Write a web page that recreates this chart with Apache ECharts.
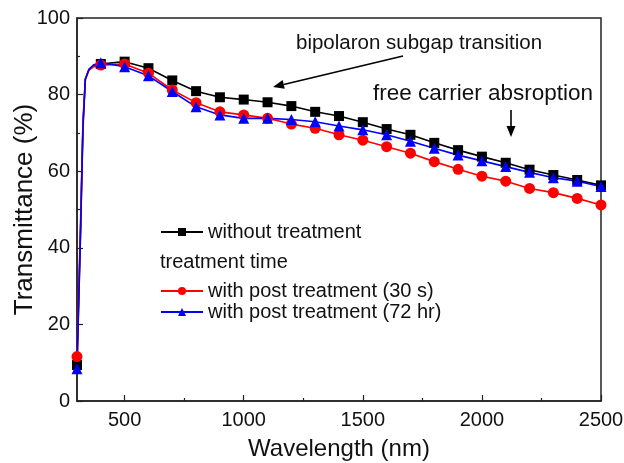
<!DOCTYPE html>
<html>
<head>
<meta charset="utf-8">
<script src="https://cdn.jsdelivr.net/npm/echarts@6/dist/echarts.min.js"></script>
<style>
  html, body { margin: 0; padding: 0; background: #fff; }
  #main { width: 624px; height: 463px; }
</style>
</head>
<body>
<div id="main"></div>
<script>
// wavelengths (nm); the first few points trace the steep UV edge, markers every 100 nm
var wavelength = [300, 315, 325, 335, 350, 370, 400, 500, 600, 700, 800, 900, 1000, 1100, 1200,
  1300, 1400, 1500, 1600, 1700, 1800, 1900, 2000, 2100, 2200, 2300, 2400, 2500];
// points that carry no marker (edge trace only)
var noMarker = [315, 325, 335, 350, 370];

var withoutTreatment = [9.4, 45, 72, 84, 86.5, 87.6, 88.0, 88.6, 86.9, 83.7, 80.9, 79.3, 78.7, 78.0, 77.0,
  75.5, 74.4, 72.8, 71.0, 69.5, 67.4, 65.5, 63.8, 62.2, 60.4, 59.0, 57.7, 56.3];
var treated30s = [11.6, 47, 73, 84, 86.3, 87.3, 87.7, 88.0, 85.6, 81.2, 77.9, 75.5, 74.7, 73.8, 72.3,
  71.2, 69.5, 68.1, 66.4, 64.7, 62.5, 60.5, 58.7, 57.4, 55.5, 54.4, 52.9, 51.2];
var treated72hr = [8.4, 44, 71, 84, 86.6, 87.8, 88.3, 87.3, 84.9, 80.8, 76.8, 74.7, 73.8, 73.8, 73.5,
  72.9, 71.8, 70.8, 69.5, 67.8, 66.0, 64.2, 62.7, 61.2, 59.7, 58.3, 57.4, 56.0];

var xMajor = [500, 1000, 1500, 2000, 2500];
var xMinor = [750, 1250, 1750, 2250];

var font = "'Liberation Sans', Arial, sans-serif";

function toData(vals) {
  return wavelength.map(function (w, i) {
    var item = { value: [w, vals[i]] };
    if (noMarker.indexOf(w) >= 0) item.symbol = 'none';
    return item;
  });
}

function mkSeries(name, vals, color, symbol, size) {
  return {
    name: name,
    type: 'line',
    data: toData(vals),
    symbol: symbol,
    symbolSize: size,
    showAllSymbol: true,
    lineStyle: { color: color, width: 1.6 },
    itemStyle: { color: color },
    animation: false,
    z: 3
  };
}

// arrow for the annotations (line + head)
function arrow(x1, y1, x2, y2) {
  var dx = x2 - x1, dy = y2 - y1;
  var len = Math.sqrt(dx * dx + dy * dy);
  var ux = dx / len, uy = dy / len;
  var hl = 11, hw = 4.5;
  var bx = x2 - ux * hl, by = y2 - uy * hl;
  return [
    { type: 'line', shape: { x1: x1, y1: y1, x2: bx, y2: by }, style: { stroke: '#000', lineWidth: 1.6 } },
    { type: 'polygon', shape: { points: [[x2, y2], [bx - uy * hw, by + ux * hw], [bx + uy * hw, by - ux * hw]] },
      style: { fill: '#000' } }
  ];
}

var myChart = echarts.init(document.getElementById('main'));

var graphics = [
  { type: 'text', left: 296, top: 33, style: { text: 'bipolaron subgap transition', font: '20.5px ' + font, fill: '#111' } },
  { type: 'text', left: 373, top: 82, style: { text: 'free carrier absroption', font: '22.5px ' + font, fill: '#111' } },
  { type: 'text', left: 160, top: 252, style: { text: 'treatment time', font: '20px ' + font, fill: '#111' } }
].concat(arrow(403, 56, 273, 87)).concat(arrow(511, 110, 511, 137));

myChart.setOption({
  backgroundColor: '#fff',
  animation: false,
  grid: {
    left: 77, right: 23, top: 18, bottom: 62,
    containLabel: false, outerBoundsMode: 'none',
    show: true, borderColor: '#222', borderWidth: 1.5
  },
  legend: [
    {
      data: ['without treatment'],
      left: 155, top: 222, padding: [0, 5, 0, 5],
      itemWidth: 42, itemHeight: 10,
      textStyle: { fontSize: 20, fontFamily: font, color: '#111' }
    },
    {
      data: ['with post treatment (30 s)', 'with post treatment (72 hr)'],
      left: 155, top: 281, orient: 'vertical', itemGap: 1, padding: [0, 5, 0, 5],
      itemWidth: 42, itemHeight: 10,
      textStyle: { fontSize: 20, fontFamily: font, color: '#111' }
    }
  ],
  xAxis: [
    {
      type: 'value', min: 300, max: 2500,
      name: 'Wavelength (nm)', nameLocation: 'middle', nameGap: 36, nameMoveOverlap: false,
      nameTextStyle: { fontSize: 24, fontFamily: font, color: '#111' },
      axisLine: { lineStyle: { color: '#222', width: 1.5 } },
      axisTick: { inside: true, length: 6, customValues: xMajor, lineStyle: { color: '#222', width: 1.2 } },
      axisLabel: {
        customValues: xMajor, fontSize: 20, fontFamily: font, color: '#111', margin: 9,
        formatter: function (v) { return String(v); }
      },
      splitLine: { show: false }
    },
    {
      type: 'value', min: 300, max: 2500, position: 'bottom',
      axisLine: { show: false },
      axisTick: { inside: true, length: 3, customValues: xMinor, lineStyle: { color: '#222', width: 1.2 } },
      axisLabel: { show: false },
      splitLine: { show: false }
    }
  ],
  yAxis: {
    type: 'value', min: 0, max: 100, interval: 20,
    name: 'Transmittance (%)', nameLocation: 'middle', nameGap: 39, nameMoveOverlap: false,
    nameTextStyle: { fontSize: 26, fontFamily: font, color: '#111' },
    axisLine: { show: true, lineStyle: { color: '#222', width: 1.5 } },
    axisTick: { inside: true, length: 6, lineStyle: { color: '#222', width: 1.2 } },
    minorTick: { show: true, splitNumber: 2, length: 3, lineStyle: { color: '#222', width: 1.2 } },
    axisLabel: { fontSize: 20, fontFamily: font, color: '#111', margin: 7 },
    splitLine: { show: false }
  },
  series: [
    mkSeries('without treatment', withoutTreatment, '#000000', 'rect', 10),
    mkSeries('with post treatment (30 s)', treated30s, '#ff0000', 'circle', 11),
    mkSeries('with post treatment (72 hr)', treated72hr, '#0000ff', 'triangle', 11)
  ],
  graphic: graphics
});
</script>
</body>
</html>
